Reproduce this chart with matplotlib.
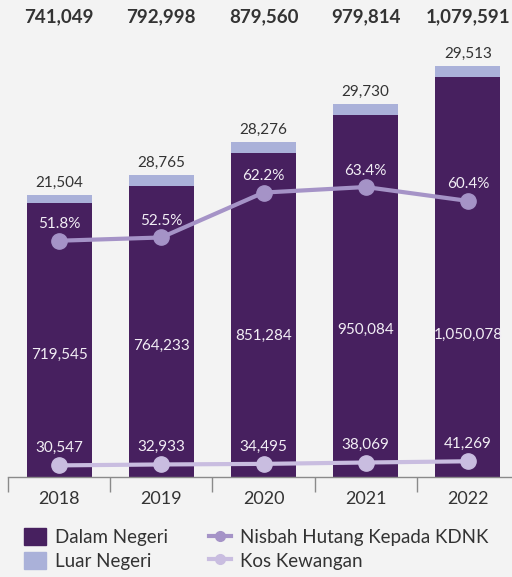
"""Hutang Kerajaan Persekutuan: stacked bars with ratio and cost lines."""

import matplotlib
matplotlib.use("Agg")
import matplotlib.pyplot as plt
from matplotlib.lines import Line2D
from matplotlib.patches import Patch

plt.rcParams["font.family"] = ["Lato", "DejaVu Sans"]

years = ["2018", "2019", "2020", "2021", "2022"]
dalam_negeri = [719545, 764233, 851284, 950084, 1050078]
luar_negeri = [21504, 28765, 28276, 29730, 29513]
jumlah = [741049, 792998, 879560, 979814, 1079591]
nisbah_kdnk = [51.8, 52.5, 62.2, 63.4, 60.4]
kos_kewangan = [30547, 32933, 34495, 38069, 41269]

# label heights inside the dark bars (data units)
dn_label_y = [320000, 344000, 370000, 386000, 373000]

BG = "#f3f3f3"
DARK = "#47205f"
LIGHT = "#aab1d9"
RATIO = "#a593c7"
COST = "#c9bde0"
TEXT = "#333333"

W, H = 512, 577
fig = plt.figure(figsize=(W / 100, H / 100), dpi=100, facecolor=BG)
ax_bottom = (H - 477) / H
ax = fig.add_axes([8 / W, ax_bottom, 1 - 8 / W, 477 / H])
ax.set_facecolor(BG)

x = list(range(len(years)))
bw = 0.636
ax.bar(x, dalam_negeri, bw, color=DARK, zorder=2)
ax.bar(x, luar_negeri, bw, bottom=dalam_negeri, color=LIGHT, zorder=2)
ax.plot(x, kos_kewangan, color=COST, lw=3, marker="o", ms=11, zorder=4)

ax.set_xlim(-0.5, (W - 8) / 102.2 - 0.5)
ax.set_ylim(0, 477 / 0.0003806)

for s in ["top", "right", "left"]:
    ax.spines[s].set_visible(False)
ax.spines["bottom"].set_color("#8a8a8a")
ax.spines["bottom"].set_linewidth(1)
ax.set_yticks([])
ax.set_xticks(x)
ax.set_xticklabels(years, fontsize=13, color=TEXT)
ax.tick_params(axis="x", which="major", length=0, pad=10)
ax.set_xticks([i - 0.5 for i in x], minor=True)
ax.tick_params(axis="x", which="minor", length=11, color="#8a8a8a", width=1)

for i in x:
    ax.annotate(f"{luar_negeri[i]:,}", (i, jumlah[i]), xytext=(0, 6),
                textcoords="offset points", ha="center", va="baseline",
                fontsize=11, color=TEXT)
    ax.text(i, dn_label_y[i], f"{dalam_negeri[i]:,}", ha="center", va="center",
            fontsize=11, color="#f2eef5", zorder=3)
    ax.annotate(f"{kos_kewangan[i]:,}", (i, kos_kewangan[i]), xytext=(0, 9.5),
                textcoords="offset points", ha="center", va="baseline",
                fontsize=11, color="#f2eef5", zorder=5)
    fig.text((8 + 102.2 * (i + 0.5)) / W, 1 - 16.5 / H, f"{jumlah[i]:,}",
             ha="center", va="center", fontsize=13.5, fontweight="bold",
             color=TEXT)

ax2 = ax.twinx()
ax2.set_ylim(0.76, 103.8)
ax2.plot(x, nisbah_kdnk, color=RATIO, lw=3, marker="o", ms=11, zorder=4)
ax2.axis("off")
for i in x:
    ax2.annotate(f"{nisbah_kdnk[i]}%", (i, nisbah_kdnk[i]), xytext=(0, 9),
                 textcoords="offset points", ha="center", va="baseline",
                 fontsize=11, color="#f2eef5")

handles = [
    Patch(color=DARK, label="Dalam Negeri"),
    Patch(color=LIGHT, label="Luar Negeri"),
    Line2D([], [], color=RATIO, lw=3, marker="o", ms=7,
           label="Nisbah Hutang Kepada KDNK"),
    Line2D([], [], color=COST, lw=3, marker="o", ms=7, label="Kos Kewangan"),
]
fig.legend(handles=handles, ncol=2, loc="upper left",
           bbox_to_anchor=(24 / W, 1 - 528 / H), frameon=False, fontsize=13.5,
           labelcolor=TEXT, handlelength=1.15, handleheight=1.05,
           handletextpad=0.5, columnspacing=2.2, labelspacing=0.3,
           borderaxespad=0, borderpad=0)

fig.savefig("out.png", dpi=100, facecolor=BG)
